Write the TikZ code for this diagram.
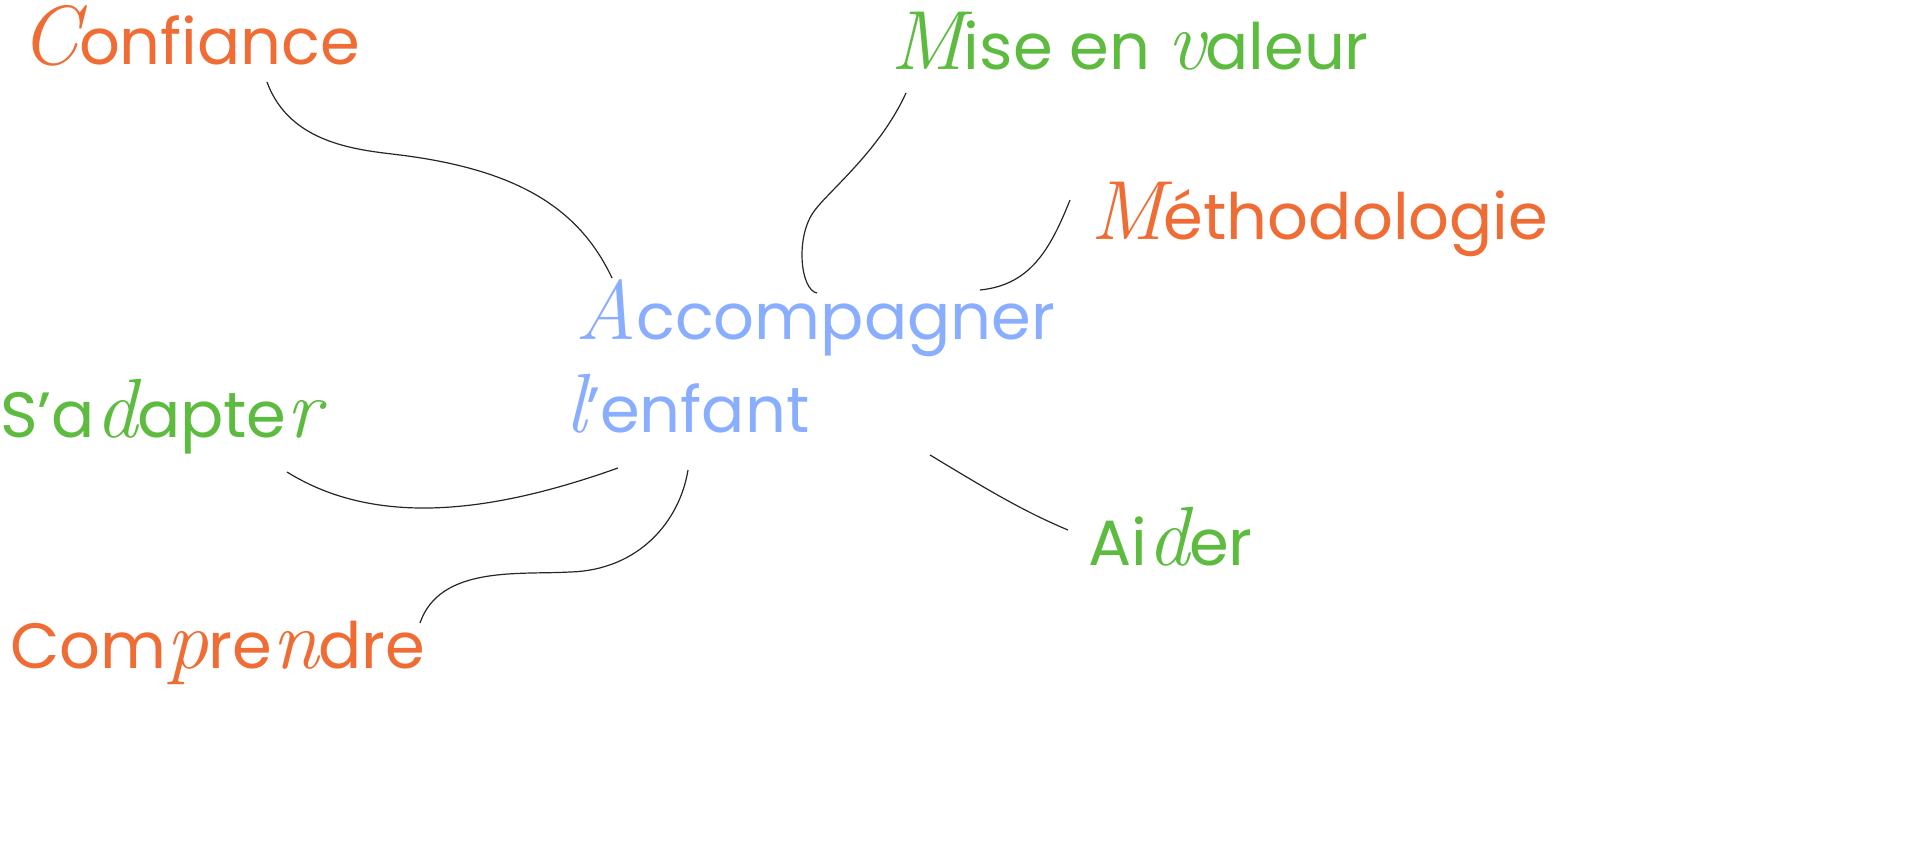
\documentclass[tikz,border=0pt]{standalone}
\usepackage{fontspec}
\setmainfont{Poppins}
\newfontfamily\hand{Latin Modern Roman}
\definecolor{orng}{HTML}{EF6C35}
\definecolor{grn}{HTML}{5DBB3F}
\definecolor{blu}{HTML}{8AAEFF}
\tikzset{
  word/.style={anchor=base west, inner sep=0pt, font=\fontsize{64}{64}\selectfont},
  link/.style={draw=black!85, line width=1.2pt},
}
\newcommand{\scr}[1]{{\hand\itshape\fontsize{84}{84}\selectfont #1}}
\begin{document}
\begin{tikzpicture}[x=1pt,y=-1pt]
    \useasboundingbox (0,0) rectangle (1920,866);
    % words
    \node[word, text=orng] (conf) at (20,65) {\scr{C}onfiance};
    \node[word, text=grn] (mise) at (890,70) {\scr{M}ise en \scr{v}aleur};
    \node[word, text=orng] (meth) at (1090,240) {\scr{M}éthodologie};
    \node[word, text=blu] (acc) at (575,340) {\scr{A}ccompagner};
    \node[word, text=blu] (enf) at (565,432) {\scr{l}'enfant};
    \node[word, text=grn] (adap) at (0,438) {S'a\scr{d}apte\scr{r}};
    \node[word, text=grn] (aide) at (1088,565) {Ai\scr{d}er};
    \node[word, text=orng] (comp) at (10,668) {Com\scr{p}re\scr{n}dre};
    % ends of the links
    \coordinate (c1) at (267,82);   \coordinate (c2) at (612,278);
    \coordinate (m1) at (906,93);   \coordinate (m2) at (817,293);
    \coordinate (t1) at (1070,200); \coordinate (t2) at (980,290);
    \coordinate (s1) at (287,472);  \coordinate (s2) at (618,468);
    \coordinate (p1) at (420,623);  \coordinate (p2) at (688,470);
    \coordinate (a1) at (930,455);  \coordinate (a2) at (1068,530);
    % links
    \draw[link] (c1) .. controls (290,145) and (360,150) .. (400,155)
        .. controls (520,170) and (580,210) .. (c2);
    \draw[link] (m1) .. controls (880,150) and (830,190) .. (815,210)
        .. controls (795,235) and (800,290) .. (m2);
    \draw[link] (t2) .. controls (1030,285) and (1050,250) .. (t1);
    \draw[link] (s1) .. controls (380,530) and (500,510) .. (s2);
    \draw[link] (p1) .. controls (440,565) and (520,575) .. (570,572)
        .. controls (640,570) and (680,520) .. (p2);
    \draw[link] (a1) .. controls (980,485) and (1020,510) .. (a2);
\end{tikzpicture}
\end{document}
